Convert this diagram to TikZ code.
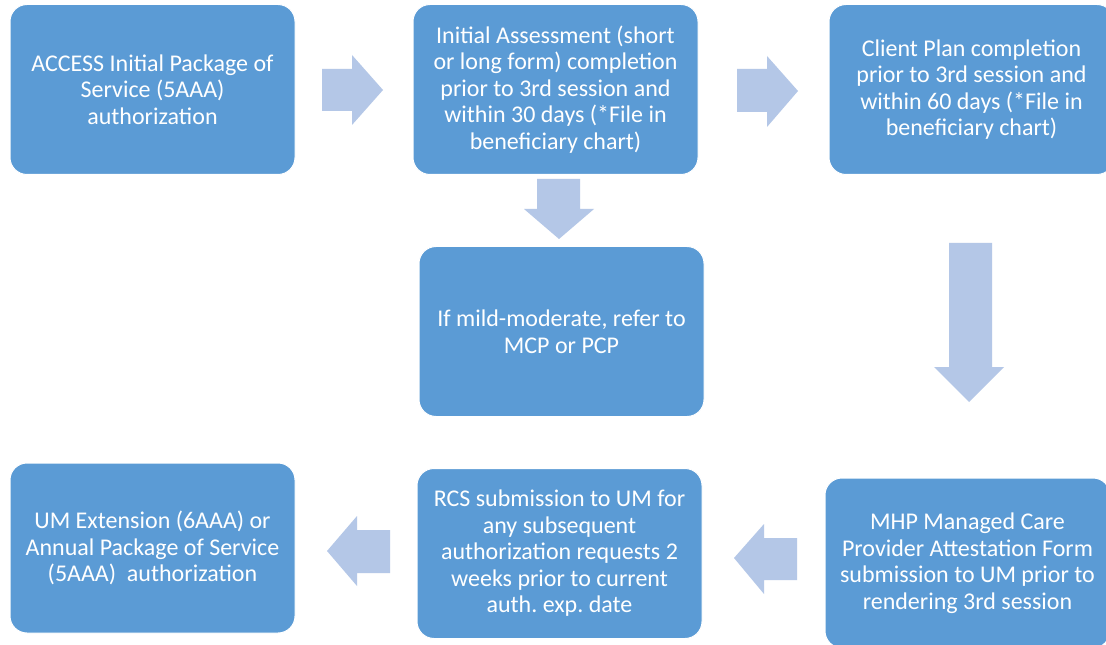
\documentclass[tikz,border=0pt]{standalone}
\usepackage{fontspec}
\setmainfont{Carlito}
\frenchspacing
\definecolor{boxblue}{HTML}{5B9BD5}
\definecolor{arrowblue}{HTML}{B4C7E7}
\begin{document}
\begin{tikzpicture}[x=0.75pt,y=-0.75pt,
  stepbox/.style={draw=white, line width=0.75pt, fill=boxblue, rounded corners=12.75pt,
    text=white, align=center, font=\fontsize{18}{19.9}\selectfont, inner sep=0pt,
    minimum width=213.75pt, minimum height=127.5pt},
  blockarrow/.style={fill=arrowblue, draw=none}]
\clip (0,0) rectangle (1106,645);
\fill[white] (0,0) rectangle (1106,645);

\node[stepbox] (b1) at (152.5,89.5) {ACCESS Initial Package of\\Service (5AAA)\\authorization};
\node[stepbox] (b2) at (555.5,89.5) {Initial Assessment (short\\or long form) completion\\prior to 3rd session and\\within 30 days (*File in\\beneficiary chart)};
\node[stepbox] (b3) at (971.5,89.5) {Client Plan completion\\prior to 3rd session and\\within 60 days (*File in\\beneficiary chart)};
\node[stepbox] (b4) at (561.5,331.5) {If mild-moderate, refer to\\MCP or PCP};
\node[stepbox] (b5) at (967.5,563) {MHP Managed Care\\Provider Attestation Form\\submission to UM prior to\\rendering 3rd session};
\node[stepbox] (b6) at (559.5,553.5) {RCS submission to UM for\\any subsequent\\authorization requests 2\\weeks prior to current\\auth. exp. date};
\node[stepbox] (b7) at (152.5,548) {UM Extension (6AAA) or\\Annual Package of Service\\(5AAA)\ \ authorization};

% block arrows
\fill[blockarrow] (322,69) -- (352,69) -- (352,55) -- (383,90) -- (352,125) -- (352,111) -- (322,111) -- cycle;
\fill[blockarrow] (737,69) -- (767,69) -- (767,56) -- (798,91) -- (767,127) -- (767,112) -- (737,112) -- cycle;
\fill[blockarrow] (537,179) -- (580,179) -- (580,209) -- (594,209) -- (559,239) -- (524,209) -- (537,209) -- cycle;
\fill[blockarrow] (949,243) -- (992,243) -- (992,367) -- (1004,367) -- (969,402) -- (934,367) -- (949,367) -- cycle;
\fill[blockarrow] (797,538) -- (764,538) -- (764,524) -- (734,558) -- (764,594) -- (764,580) -- (797,580) -- cycle;
\fill[blockarrow] (390,530) -- (357,530) -- (357,516) -- (327,551) -- (357,586) -- (357,573) -- (390,573) -- cycle;
\end{tikzpicture}
\end{document}
